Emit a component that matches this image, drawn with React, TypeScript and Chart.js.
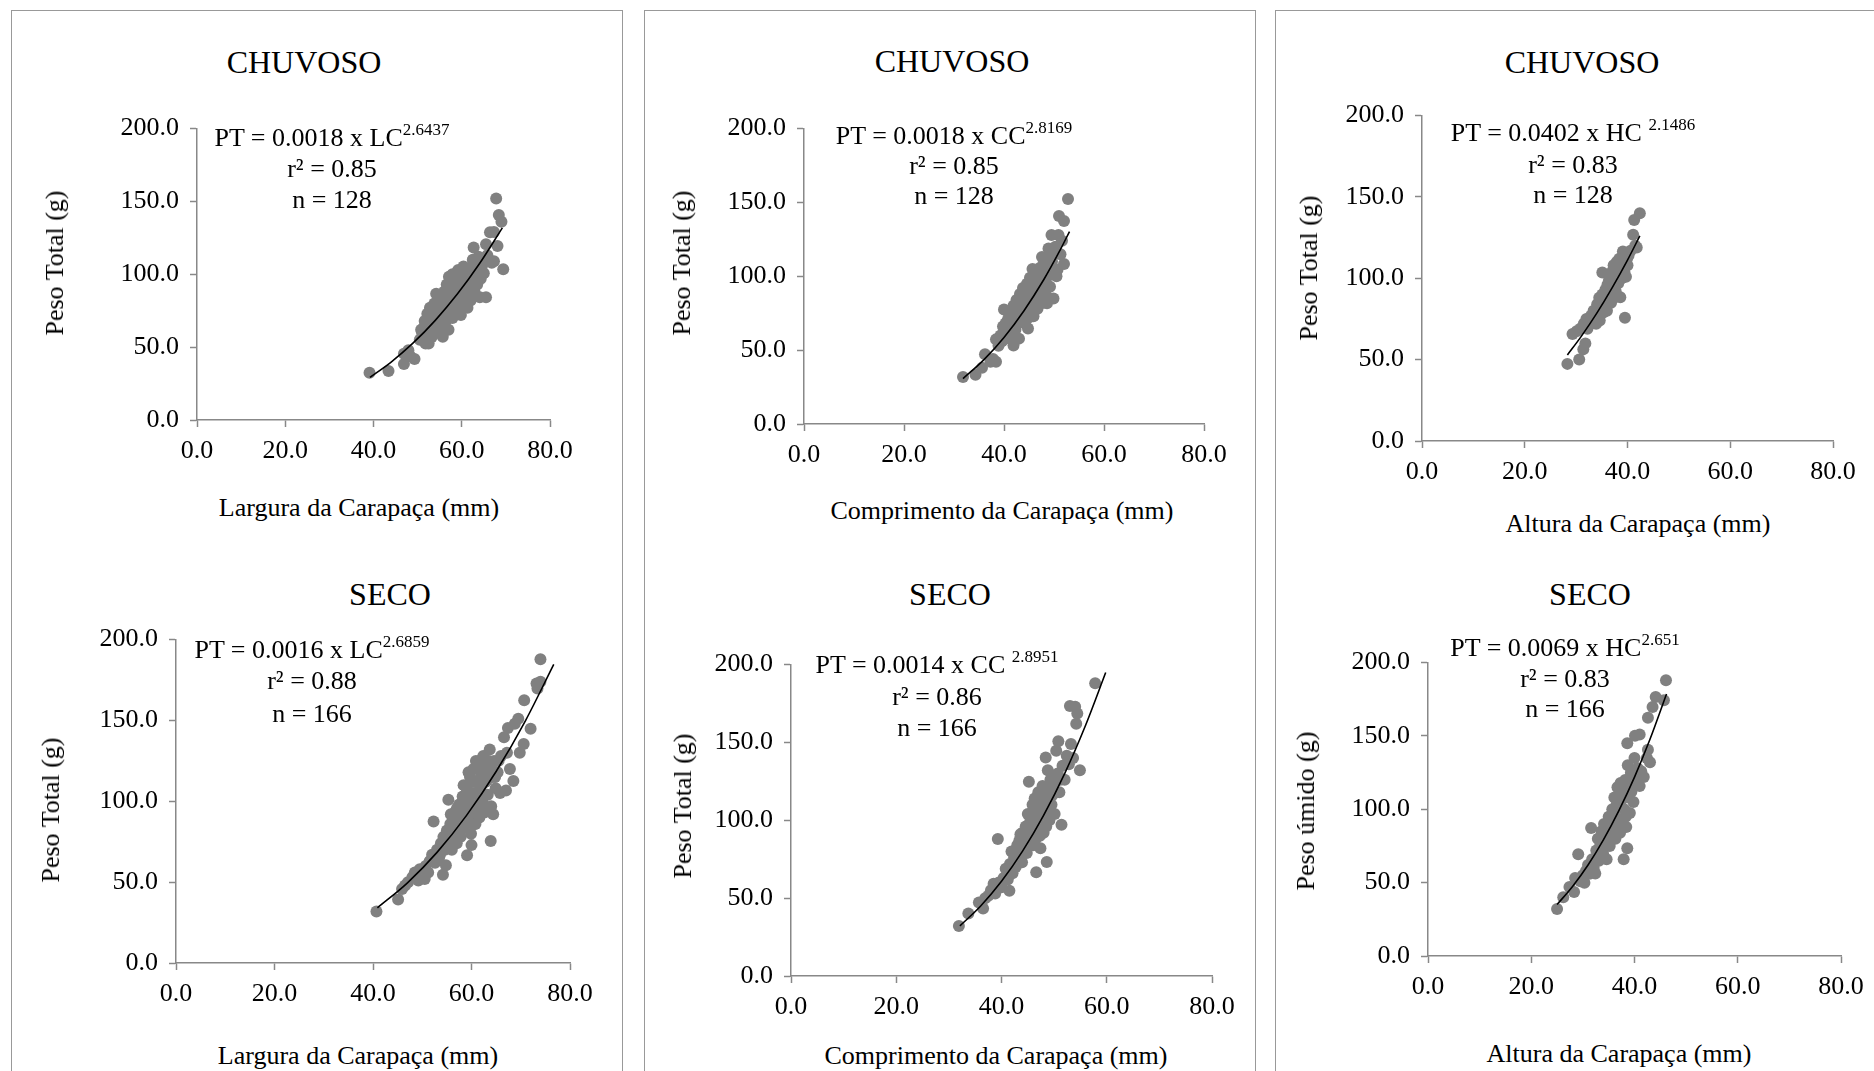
import React, { useEffect, useRef } from 'react';
import { Chart, registerables } from 'chart.js';

Chart.register(...registerables);

type Pt = [number, number];

// ---------- axis ticks ----------
const X_TICKS = [0, 20, 40, 60, 80];
const Y_TICKS = [0, 50, 100, 150, 200];

// ---------- CHUVOSO · Largura da Carapaça ----------
const CHUVOSO_LC: Pt[] = [
  [39.1, 32.5], [43.4, 33.6], [46.9, 38.4], [46.9, 45.4], [49.3, 41.9], [47.9, 47.8], [48.3, 44],
  [50.5, 55], [50.8, 62], [51.2, 58], [51.5, 64], [51.8, 52.5], [52.0, 67], [52.3, 60], [52.5, 52.5],
  [52.6, 70], [52.8, 77], [53.0, 63], [53.2, 57], [53.4, 72], [53.6, 66], [53.8, 80], [54.0, 62],
  [54.2, 86.6], [54.4, 75], [54.6, 69], [54.8, 60], [55.0, 78], [55.2, 83], [55.4, 65], [55.7, 57.2],
  [55.8, 72], [56.0, 88], [56.2, 76], [56.4, 68], [56.6, 93], [56.8, 81], [57.0, 62], [57.1, 98.4],
  [57.3, 85], [57.5, 74], [57.7, 90], [57.9, 70], [58.0, 95], [58.2, 80], [58.4, 100], [58.6, 86],
  [58.8, 76], [59.0, 92], [59.2, 103], [59.4, 83], [59.6, 97], [59.8, 72], [60.0, 88], [60.2, 101],
  [60.4, 105.4], [60.5, 80], [60.7, 94], [60.9, 85], [61.1, 99], [61.3, 77], [61.5, 90], [61.8, 104],
  [62.0, 82], [62.2, 95], [62.5, 110], [62.7, 118.4], [62.9, 88], [63.2, 100], [63.5, 93], [63.8, 112],
  [64.1, 84.2], [64.3, 97], [64.6, 106], [65.0, 100.7], [65.5, 84.2], [65.5, 120.7], [65.8, 113],
  [66.4, 128.9], [66.8, 108], [67.3, 109], [67.3, 129], [67.8, 152], [68.1, 119.5], [68.4, 140.7],
  [69.0, 136], [69.4, 103.5],
  [51.0, 60], [51.6, 68], [52.2, 73], [52.9, 66], [53.3, 61], [53.7, 76], [54.1, 71], [54.5, 82],
  [55.1, 68], [55.6, 80], [56.1, 74], [56.7, 86], [57.4, 79], [57.9, 100], [58.3, 91], [58.9, 97],
  [59.5, 88], [60.1, 96], [60.6, 90], [61.0, 103], [61.6, 96], [62.3, 102], [63.0, 106], [63.6, 98],
  [64.4, 110], [59.3, 79], [58.1, 73], [56.9, 70], [55.3, 72], [54.7, 64],
];
const CHUVOSO_LC_FIT: Pt[] = [
  [39.2, 29.3], [44, 39.8], [49, 52.9], [54, 68.4], [59, 86.4], [64, 107.2], [69.2, 131.9],
];

// ---------- CHUVOSO · Comprimento da Carapaça ----------
const CHUVOSO_CC: Pt[] = [
  [31.8, 31.8], [34.3, 33.4], [35.6, 38], [36.2, 47.3], [37.3, 42.2], [38.4, 42.2], [37.8, 44],
  [38.4, 57.3], [38.9, 53], [39.3, 60], [39.6, 56], [39.8, 66], [40.0, 77.5], [40.2, 63], [40.5, 58],
  [40.7, 70], [41.0, 74], [41.2, 62], [41.5, 67], [41.9, 53.1], [41.9, 80], [42.1, 72], [42.3, 64],
  [42.5, 84], [42.7, 76], [43.0, 57.8], [43.0, 69], [43.2, 88], [43.4, 79], [43.6, 73], [43.8, 92],
  [44.0, 83], [44.2, 68], [44.4, 86], [44.6, 95], [44.8, 64.7], [44.8, 77], [45.0, 90], [45.2, 99],
  [45.4, 81], [45.7, 104.9], [45.7, 87], [45.9, 73], [46.1, 94], [46.3, 102], [46.5, 85], [46.7, 78],
  [46.9, 97], [47.1, 90], [47.3, 106], [47.6, 113], [47.7, 82], [47.9, 95], [48.1, 100], [48.3, 88],
  [48.6, 81.7], [48.9, 118.8], [48.9, 103], [49.2, 93], [49.5, 128], [49.6, 110], [49.9, 85],
  [50.3, 120], [50.5, 100], [50.7, 104.4], [50.9, 128], [51.0, 140.8], [51.3, 115], [51.6, 124],
  [52.0, 108.4], [52.0, 137.4], [52.8, 152.4],
  [40.3, 68], [40.9, 65], [41.4, 76], [42.0, 60], [42.6, 80], [43.1, 74], [43.5, 83], [44.1, 77],
  [44.5, 90], [45.1, 85], [45.5, 95], [46.0, 89], [46.4, 98], [46.8, 92], [47.2, 101], [47.5, 96],
  [48.0, 108], [48.4, 98], [49.0, 112], [49.4, 104], [50.0, 115], [48.0, 86], [46.2, 80], [44.9, 72],
];
const CHUVOSO_CC_FIT: Pt[] = [
  [31.8, 30.7], [36, 43.6], [40, 58.6], [44, 76.7], [48, 98.0], [51, 116.3], [53.1, 130.3],
];

// ---------- CHUVOSO · Altura da Carapaça ----------
const CHUVOSO_HC: Pt[] = [
  [28.3, 47.4], [29.3, 65.7], [30.1, 67.4], [30.6, 50.1], [30.8, 69], [31.4, 56.4], [31.8, 60],
  [31.5, 72], [32.0, 75], [32.3, 71], [32.6, 74], [32.9, 77], [33.1, 73], [33.4, 80], [33.6, 76],
  [33.9, 72], [34.1, 84], [34.3, 78], [34.5, 88], [34.6, 74], [34.8, 82], [35.1, 103.6], [35.1, 90],
  [35.3, 79], [35.5, 86], [35.7, 93], [35.9, 83], [36.1, 96], [36.2, 88], [36.4, 99], [36.6, 91],
  [36.8, 85], [37.0, 104], [37.1, 95], [37.3, 108], [37.5, 100], [37.7, 92], [37.9, 110], [38.0, 103],
  [38.2, 97], [38.4, 112], [38.6, 88.4], [38.7, 106], [38.9, 100], [39.1, 116.4], [39.3, 108],
  [39.5, 75.8], [39.7, 101], [39.9, 112], [40.2, 114], [40.6, 117], [41.1, 126.7], [41.3, 135.8],
  [41.8, 118.9], [42.4, 140], [41.5, 120],
  [32.2, 69], [32.8, 72], [33.3, 75], [33.8, 79], [34.4, 81], [34.9, 85], [35.4, 89], [35.8, 90],
  [36.3, 93], [36.7, 96], [37.2, 98], [37.6, 104], [38.1, 106], [38.5, 103], [38.8, 110], [39.4, 104],
  [40.0, 108], [36.0, 80], [37.4, 88], [34.0, 76],
];
const CHUVOSO_HC_FIT: Pt[] = [
  [28.3, 52.9], [31, 64.3], [34, 78.4], [37, 94.1], [40, 111.2], [42.4, 126.1],
];

// ---------- SECO · Largura da Carapaça ----------
const SECO_LC: Pt[] = [
  [40.7, 31.9], [45.1, 39.2], [45.9, 45.8], [46.5, 48], [47.1, 50], [48.0, 53], [48.5, 56], [49.2, 51],
  [49.5, 58], [50.5, 52], [50.7, 60], [51.2, 56], [51.5, 63], [52.0, 67], [52.3, 87.5], [52.6, 62],
  [53.0, 70], [53.4, 65], [53.8, 74], [54.2, 54.6], [54.3, 78], [54.6, 70], [54.8, 60.4], [55.0, 82],
  [55.3, 101], [55.4, 75], [55.7, 86], [56.0, 70], [56.2, 90], [56.5, 80], [56.8, 94], [57.0, 74],
  [57.2, 85], [57.5, 98], [57.8, 78], [58.0, 90], [58.2, 103], [58.5, 84], [58.7, 95], [59.0, 108],
  [59.1, 66.7], [59.3, 88], [59.5, 100], [59.7, 115], [59.9, 80], [60.0, 72.9], [60.2, 94], [60.4, 120],
  [60.6, 105], [60.8, 86], [61.0, 112], [61.2, 98], [61.4, 124], [61.6, 90], [61.8, 108], [62.0, 117],
  [62.2, 100], [62.4, 128], [62.6, 93], [62.8, 112], [63.0, 122], [63.3, 104], [63.7, 132], [63.9, 75.4],
  [64.0, 97], [64.2, 115], [64.4, 92], [64.6, 125], [64.9, 108], [65.3, 118], [65.8, 105.2], [66.0, 128],
  [66.6, 139.6], [67.0, 106.7], [67.2, 130], [67.4, 145.4], [67.8, 120], [68.5, 112.5], [68.8, 147.9],
  [69.5, 151], [69.8, 130], [70.6, 135.4], [70.7, 162.5], [72.0, 144.8], [73.2, 172.9], [73.4, 169.8],
  [74.0, 187.9], [74.0, 174],
  [55.8, 92], [56.4, 88], [57.1, 96], [57.6, 88], [58.1, 95], [58.4, 110], [58.9, 100], [59.4, 118],
  [59.8, 105], [60.3, 112], [60.9, 125], [61.3, 104], [61.9, 115], [62.1, 126], [62.7, 120], [63.1, 113],
  [63.5, 125], [64.1, 120], [64.8, 115], [65.5, 125], [57.9, 83], [59.6, 92], [61.5, 96], [63.4, 96],
  [60.5, 86], [56.0, 76], [54.9, 73], [53.6, 67],
];
const SECO_LC_FIT: Pt[] = [
  [40.9, 34.1], [47, 49.6], [53, 68.4], [59, 91.3], [65, 118.4], [71, 150.1], [76.7, 184.7],
];

// ---------- SECO · Comprimento da Carapaça ----------
const SECO_CC: Pt[] = [
  [31.9, 32.1], [33.7, 40.1], [35.7, 47.2], [36.5, 43.3], [36.9, 50], [37.5, 51.6], [38.0, 55],
  [38.5, 59.2], [38.8, 53], [39.3, 88], [39.5, 60], [40.0, 57], [40.4, 63], [40.8, 68.9], [41.2, 62],
  [41.5, 54.8], [41.6, 72], [41.9, 80], [42.1, 66], [42.4, 76], [42.7, 70], [43.0, 84], [43.3, 78],
  [43.6, 91], [43.9, 73], [44.1, 88], [44.3, 82], [44.6, 96], [44.8, 79], [45.0, 104], [45.2, 124.8],
  [45.2, 90], [45.5, 100], [45.7, 85], [45.9, 110], [46.1, 94], [46.3, 114], [46.5, 88], [46.6, 66.7],
  [46.8, 104], [47.0, 118], [47.2, 97], [47.4, 82], [47.6, 110], [47.8, 122], [48.0, 92], [48.2, 106],
  [48.4, 140.4], [48.6, 73.2], [48.8, 132.2], [48.9, 115], [49.1, 100], [49.3, 126], [49.5, 110],
  [49.8, 120], [50.1, 104], [50.4, 144.7], [50.5, 128], [50.8, 150.8], [51.0, 118], [51.4, 97.1],
  [51.6, 135], [52.0, 126], [52.4, 141.5], [52.8, 136], [53.0, 173.4], [53.2, 149], [53.6, 140],
  [54.0, 172.9], [54.2, 162], [54.4, 168.6], [54.9, 132.2], [57.8, 188],
  [43.4, 87], [44.0, 92], [44.5, 86], [45.0, 96], [45.4, 93], [45.8, 101], [46.2, 106], [46.7, 97],
  [47.1, 108], [47.5, 103], [47.9, 113], [48.3, 118], [48.7, 108], [49.2, 120], [49.6, 116], [50.0, 124],
  [50.3, 118], [50.7, 130], [51.2, 126], [46.0, 84], [47.3, 90], [48.5, 96],
];
const SECO_CC_FIT: Pt[] = [
  [32.1, 32.2], [36, 44.8], [40, 60.8], [44, 80.2], [48, 103.2], [52, 130.0], [56, 161.2], [59.8, 194.9],
];

// ---------- SECO · Altura da Carapaça ----------
const SECO_HC: Pt[] = [
  [25.0, 32.1], [26.2, 40.1], [27.4, 47], [28.3, 43.6], [28.5, 53.2], [29.1, 69.3], [29.5, 51], [30.0, 55],
  [30.3, 50], [30.6, 58], [31.0, 62], [31.3, 56], [31.6, 87.2], [31.8, 66], [32.1, 60], [32.4, 56.2],
  [32.6, 72], [32.9, 80], [33.1, 65], [33.4, 76], [33.6, 85], [33.9, 70], [34.1, 90], [34.3, 79],
  [34.6, 66], [34.8, 86], [35.0, 95], [35.2, 75], [35.5, 82], [35.7, 100], [35.9, 88], [36.1, 108],
  [36.3, 80], [36.5, 94], [36.7, 115], [36.9, 85], [37.1, 104], [37.3, 118], [37.5, 92], [37.7, 110],
  [37.9, 66], [38.0, 100], [38.2, 120], [38.4, 88], [38.6, 73.4], [38.6, 145], [38.7, 130], [38.9, 108],
  [39.1, 97.5], [39.3, 125], [39.5, 115], [39.8, 105], [40.0, 135], [40.1, 150.2], [40.3, 118],
  [40.6, 128], [41.0, 115.8], [41.0, 151], [41.3, 126], [41.8, 122], [42.4, 135], [42.6, 140.6],
  [42.6, 162.4], [43.0, 132], [43.5, 169.7], [44.1, 176.6], [45.7, 174.3], [46.1, 188],
  [33.3, 70], [33.8, 78], [34.3, 84], [34.7, 80], [35.3, 90], [35.8, 94], [36.2, 100], [36.6, 104],
  [37.0, 110], [37.4, 106], [37.8, 114], [38.1, 110], [38.5, 118], [38.9, 116], [39.4, 112], [39.9, 120],
  [40.4, 124], [36.0, 90], [37.2, 84], [38.3, 95], [35.0, 80],
];
const SECO_HC_FIT: Pt[] = [
  [25, 35.1], [28, 47.4], [31, 62.0], [34, 79.3], [37, 99.2], [40, 121.9], [43, 147.7], [46.2, 178.6],
];

// ---------- texts ----------
const TITLES = ['CHUVOSO', 'CHUVOSO', 'CHUVOSO', 'SECO', 'SECO', 'SECO'];
const X_TITLES = [
  'Largura da Carapaça (mm)', 'Comprimento da Carapaça (mm)', 'Altura da Carapaça (mm)',
  'Largura da Carapaça (mm)', 'Comprimento da Carapaça (mm)', 'Altura da Carapaça (mm)',
];
const Y_TITLES = ['Peso Total (g)', 'Peso Total (g)', 'Peso Total (g)', 'Peso Total (g)', 'Peso Total (g)', 'Peso úmido (g)'];
const EQ_BASE = ['PT = 0.0018 x LC', 'PT = 0.0018 x CC', 'PT = 0.0402 x HC ', 'PT = 0.0016 x LC', 'PT = 0.0014 x CC ', 'PT = 0.0069 x HC'];
const EQ_EXP = ['2.6437', '2.8169', '2.1486', '2.6859', '2.8951', '2.651'];
const R2 = ['r² = 0.85', 'r² = 0.85', 'r² = 0.83', 'r² = 0.88', 'r² = 0.86', 'r² = 0.83'];
const N = ['n = 128', 'n = 128', 'n = 128', 'n = 166', 'n = 166', 'n = 166'];

const POINTS = [CHUVOSO_LC, CHUVOSO_CC, CHUVOSO_HC, SECO_LC, SECO_CC, SECO_HC];
const FITS = [CHUVOSO_LC_FIT, CHUVOSO_CC_FIT, CHUVOSO_HC_FIT, SECO_LC_FIT, SECO_CC_FIT, SECO_HC_FIT];

// ---------- layout (page pixels) ----------
type Layout = {
  area: { l: number; t: number; r: number; b: number };
  title: [number, number];
  eqX: number;
  eqY: [number, number, number];
  yTitle: [number, number];
  xTitle: [number, number];
};
const LAYOUT: Layout[] = [
  { area: { l: 197, t: 127, r: 550, b: 420 }, title: [304, 62], eqX: 332, eqY: [138, 169, 200], yTitle: [55, 263], xTitle: [359, 508] },
  { area: { l: 804, t: 127, r: 1204, b: 424 }, title: [952, 61], eqX: 954, eqY: [136, 166, 196], yTitle: [682, 263], xTitle: [1002, 511] },
  { area: { l: 1422, t: 114, r: 1833, b: 441 }, title: [1582, 62], eqX: 1573, eqY: [133, 165, 195], yTitle: [1309, 268], xTitle: [1638, 524] },
  { area: { l: 176, t: 638, r: 570, b: 963 }, title: [390, 594], eqX: 312, eqY: [650, 681, 714], yTitle: [51, 810], xTitle: [358, 1056] },
  { area: { l: 791, t: 663, r: 1212, b: 976 }, title: [950, 594], eqX: 937, eqY: [665, 697, 728], yTitle: [683, 806], xTitle: [996, 1056] },
  { area: { l: 1428, t: 661, r: 1841, b: 956 }, title: [1590, 594], eqX: 1565, eqY: [648, 679, 709], yTitle: [1306, 811], xTitle: [1619, 1054] },
];
const BOXES = [11, 644, 1275];

const SERIF = "'Liberation Serif', 'Times New Roman', Times, serif";
const AXIS_GREY = '#888888';
const DOT_GREY = '#808080';

const PADL = 130;
const PADT = 25;
const PADR = 45;
const PADB = 60;

function Panel({ idx }: { idx: number }) {
  const ref = useRef<HTMLCanvasElement>(null);
  const L = LAYOUT[idx];
  const w = L.area.r - L.area.l + PADL + PADR;
  const h = L.area.b - L.area.t + PADT + PADB;

  useEffect(() => {
    const tickFont = { family: SERIF, size: 26, lineHeight: 1.2 };
    const fmt = (v: any) => Number(v).toFixed(1);
    const chart = new Chart(ref.current as HTMLCanvasElement, {
      type: 'scatter',
      data: {
        datasets: [
          {
            data: FITS[idx].map(([x, y]) => ({ x, y })),
            showLine: true,
            pointRadius: 0,
            pointHoverRadius: 0,
            borderColor: '#000000',
            borderWidth: 1.6,
            fill: false,
            tension: 0.4,
            cubicInterpolationMode: 'monotone',
          } as any,
          {
            data: POINTS[idx].map(([x, y]) => ({ x, y })),
            showLine: false,
            pointRadius: 6,
            pointHoverRadius: 6,
            pointBackgroundColor: DOT_GREY,
            backgroundColor: DOT_GREY,
            pointBorderWidth: 0,
            borderWidth: 0,
          } as any,
        ],
      },
      options: {
        animation: false,
        responsive: false,
        events: [],
        layout: { padding: { left: 0, top: PADT, right: PADR, bottom: 0 } },
        plugins: { legend: { display: false }, tooltip: { enabled: false }, title: { display: false } },
        scales: {
          x: {
            type: 'linear',
            position: 'bottom',
            min: X_TICKS[0],
            max: X_TICKS[X_TICKS.length - 1],
            afterFit: (s: any) => { s.height = PADB; },
            afterBuildTicks: (s: any) => { s.ticks = X_TICKS.map((v) => ({ value: v })); },
            ticks: { font: tickFont, color: '#000000', padding: 9, callback: fmt, autoSkip: false, maxRotation: 0 },
            grid: { drawOnChartArea: false, drawTicks: true, tickLength: 7, tickColor: AXIS_GREY, tickWidth: 1.5, color: AXIS_GREY },
            border: { display: true, color: AXIS_GREY, width: 1.5 },
          },
          y: {
            type: 'linear',
            position: 'left',
            min: Y_TICKS[0],
            max: Y_TICKS[Y_TICKS.length - 1],
            afterFit: (s: any) => { s.width = PADL; },
            afterBuildTicks: (s: any) => { s.ticks = Y_TICKS.map((v) => ({ value: v })); },
            ticks: { font: tickFont, color: '#000000', padding: 11, callback: fmt, autoSkip: false },
            grid: { drawOnChartArea: false, drawTicks: true, tickLength: 7, tickColor: AXIS_GREY, tickWidth: 1.5, color: AXIS_GREY },
            border: { display: true, color: AXIS_GREY, width: 1.5 },
          },
        },
      } as any,
    });
    return () => chart.destroy();
  }, [idx]);

  return (
    <canvas
      ref={ref}
      width={w}
      height={h}
      style={{ position: 'absolute', left: L.area.l - PADL, top: L.area.t - PADT, width: w, height: h }}
    />
  );
}

function Txt({ x, y, size, rotate, children }: { x: number; y: number; size: number; rotate?: boolean; children: any }) {
  return (
    <div
      style={{
        position: 'absolute',
        left: x,
        top: y,
        transform: `translate(-50%, -50%)${rotate ? ' rotate(-90deg)' : ''}`,
        fontFamily: SERIF,
        fontSize: size,
        lineHeight: 1,
        whiteSpace: 'pre',
        color: '#000000',
      }}
    >
      {children}
    </div>
  );
}

function Texts({ idx }: { idx: number }) {
  const L = LAYOUT[idx];
  return (
    <>
      <Txt x={L.title[0]} y={L.title[1]} size={32}>{TITLES[idx]}</Txt>
      <Txt x={L.eqX} y={L.eqY[0]} size={26}>
        {EQ_BASE[idx]}
        <span style={{ fontSize: 17, position: 'relative', top: -11 }}>{EQ_EXP[idx]}</span>
      </Txt>
      <Txt x={L.eqX} y={L.eqY[1]} size={26}>{R2[idx]}</Txt>
      <Txt x={L.eqX} y={L.eqY[2]} size={26}>{N[idx]}</Txt>
      <Txt x={L.yTitle[0]} y={L.yTitle[1]} size={26} rotate>{Y_TITLES[idx]}</Txt>
      <Txt x={L.xTitle[0]} y={L.xTitle[1]} size={26}>{X_TITLES[idx]}</Txt>
    </>
  );
}

export default function App() {
  const ids = [0, 1, 2, 3, 4, 5];
  return (
    <div
      style={{
        position: 'fixed',
        left: 0,
        top: 0,
        width: 1874,
        height: 1071,
        overflow: 'hidden',
        background: '#ffffff',
      }}
    >
      {BOXES.map((bx, i) => (
        <div
          key={'box' + i}
          style={{
            position: 'absolute',
            left: bx,
            top: 10,
            width: 612,
            height: 1100,
            border: '1px solid #999999',
            boxSizing: 'border-box',
          }}
        />
      ))}
      {ids.map((i) => (
        <Panel key={'p' + i} idx={i} />
      ))}
      {ids.map((i) => (
        <Texts key={'t' + i} idx={i} />
      ))}
    </div>
  );
}
